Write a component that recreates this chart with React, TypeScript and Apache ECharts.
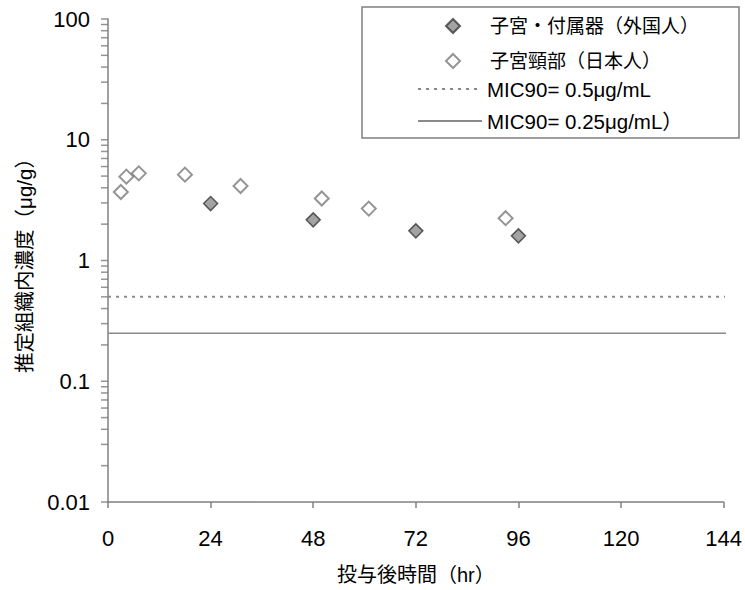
import React, { useEffect, useRef } from "react";
import * as echarts from "echarts";

const xTicks = [0, 24, 48, 72, 96, 120, 144];
const yTickValues = [
  0.01, 0.02, 0.03, 0.04, 0.05, 0.06, 0.07, 0.08, 0.09,
  0.1, 0.2, 0.3, 0.4, 0.5, 0.6, 0.7, 0.8, 0.9,
  1, 2, 3, 4, 5, 6, 7, 8, 9,
  10, 20, 30, 40, 50, 60, 70, 80, 90, 100,
];
const seriesNames = [
  "子宮・付属器（外国人）",
  "子宮頸部（日本人）",
  "MIC90= 0.5μg/mL",
  "MIC90= 0.25μg/mL）",
];
const uterusAdnexa: [number, number][] = [
  [24, 2.96],
  [48, 2.17],
  [72, 1.76],
  [96, 1.6],
];
const cervix: [number, number][] = [
  [3, 3.69],
  [4.3, 4.95],
  [7.2, 5.27],
  [18, 5.14],
  [31, 4.14],
  [50, 3.26],
  [61, 2.69],
  [93, 2.24],
];
const mic05: [number, number][] = [
  [0, 0.5],
  [146, 0.5],
];
const mic025: [number, number][] = [
  [0, 0.25],
  [146, 0.25],
];

const FONT = "'Liberation Sans', Arial, 'Noto Sans CJK JP', sans-serif";
const AXIS = "#808080";

export default function App() {
  const ref = useRef<HTMLDivElement>(null);
  useEffect(() => {
    if (!ref.current) return;
    const chart = echarts.init(ref.current, undefined, { renderer: "svg" });
    chart.setOption({
      animation: false,
      backgroundColor: "#ffffff",
      textStyle: { fontFamily: FONT },
      grid: { left: 108, top: 19, right: 17, bottom: 86, containLabel: false },
      graphic: [
        {
          type: "rect",
          z: 1,
          shape: { x: 362, y: 7, width: 377, height: 131 },
          style: { fill: "#ffffff", stroke: AXIS, lineWidth: 1.5 },
        },
      ],
      legend: [
        {
          data: [seriesNames[0], seriesNames[1]],
          orient: "vertical",
          left: 445,
          top: 15,
          padding: 0,
          itemWidth: 14,
          itemHeight: 14,
          itemGap: 13,
          z: 10,
          textStyle: {
            fontSize: 19,
            color: "#000",
            lineHeight: 22,
            fontFamily: FONT,
            padding: [0, 0, 0, 25],
          },
        },
        {
          data: [seriesNames[2], seriesNames[3]],
          orient: "vertical",
          left: 417,
          top: 78,
          padding: 0,
          itemWidth: 64,
          itemHeight: 14,
          itemGap: 10,
          z: 10,
          itemStyle: { opacity: 0, color: "transparent", borderWidth: 0 },
          textStyle: { fontSize: 20.5, color: "#000", lineHeight: 22, fontFamily: FONT },
        },
      ],
      xAxis: {
        type: "value",
        min: 0,
        max: 144,
        interval: 24,
        name: "投与後時間（hr）",
        nameLocation: "middle",
        nameGap: 63,
        nameTextStyle: { fontSize: 20, color: "#000", fontFamily: FONT },
        axisLine: { show: true, onZero: false, lineStyle: { color: AXIS, width: 1.5 } },
        axisTick: { show: true, length: 6, lineStyle: { color: AXIS, width: 1.5 } },
        axisLabel: {
          fontSize: 22,
          color: "#000",
          margin: 25,
          fontFamily: FONT,
          customValues: xTicks,
        },
        splitLine: { show: false },
      },
      yAxis: {
        type: "log",
        logBase: 10,
        min: 0.01,
        max: 100,
        name: "推定組織内濃度（μg/g）",
        nameLocation: "middle",
        nameGap: 73,
        nameTextStyle: { fontSize: 20.5, color: "#000", fontFamily: FONT },
        axisLine: { show: true, lineStyle: { color: AXIS, width: 1.5 } },
        axisTick: { show: false },
        axisLabel: {
          fontSize: 22,
          color: "#000",
          margin: 18,
          fontFamily: FONT,
          formatter: (v: number) => String(v),
        },
        splitLine: { show: false },
      },
      series: [
        {
          // y-axis ticks at 1..9 × 10^n, placed through the log axis
          type: "scatter",
          silent: true,
          clip: false,
          data: yTickValues.map((v) => [0, v]),
          symbol: "rect",
          symbolSize: [7, 1.5],
          symbolOffset: [-3.5, 0],
          itemStyle: { color: "#7a7a7a" },
          z: 2,
        },
        {
          name: seriesNames[0],
          type: "scatter",
          data: uterusAdnexa,
          symbol: "diamond",
          symbolSize: 14,
          itemStyle: { color: "#8c8c8c", borderColor: "#3a3a3a", borderWidth: 1.5 },
          z: 5,
        },
        {
          name: seriesNames[1],
          type: "scatter",
          data: cervix,
          symbol: "diamond",
          symbolSize: 14,
          itemStyle: { color: "#ffffff", borderColor: "#7a7a7a", borderWidth: 2 },
          z: 5,
        },
        {
          name: seriesNames[2],
          type: "line",
          data: mic05,
          symbol: "none",
          clip: false,
          lineStyle: { color: "#8a8a8a", width: 2, type: [3, 5] },
          itemStyle: { color: "#8a8a8a" },
          z: 3,
        },
        {
          name: seriesNames[3],
          type: "line",
          data: mic025,
          symbol: "none",
          clip: false,
          lineStyle: { color: "#8a8a8a", width: 1.5, type: "solid" },
          itemStyle: { color: "#8a8a8a" },
          z: 3,
        },
      ],
    });
    return () => chart.dispose();
  }, []);
  return <div ref={ref} style={{ width: 745, height: 590, position: "absolute", left: 0, top: 0 }} />;
}
